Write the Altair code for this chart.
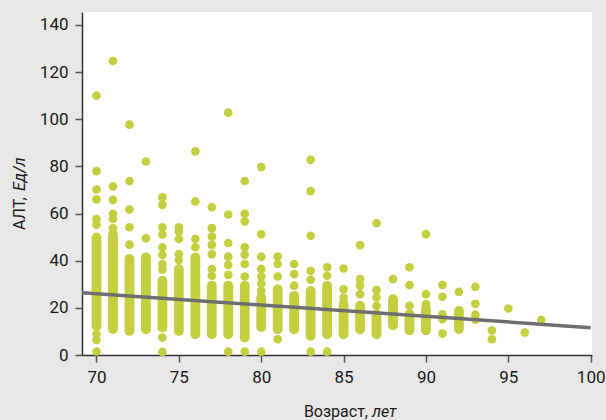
import altair as alt
import pandas as pd

# Dense columns of overlapping points (age, lowest and highest point centre)
col_age = [70, 71, 72, 73, 74, 75, 76, 77, 78, 79, 80, 81, 82, 83, 84, 85, 86, 87, 88, 89, 90, 92]
col_low = [12.3, 11.0, 10.2, 10.9, 11.6, 10.2, 8.8, 8.8, 8.8, 7.4, 11.9, 10.9, 10.9, 8.1, 8.8, 8.8, 10.9, 8.8, 12.6, 10.5, 10.5, 11.0]
col_high = [49.9, 51.0, 40.7, 41.4, 31.5, 36.5, 41.4, 29.4, 29.4, 29.4, 24.4, 27.9, 25.1, 27.2, 29.4, 21.6, 20.9, 17.3, 23.7, 17.3, 19.4, 18.7]

# Separate points
pt_age = (
    [70] * 9 + [71] * 6 + [72] * 5 + [73] * 2 + [74] * 10 + [75] * 5 + [76] * 4 +
    [77] * 7 + [78] * 7 + [79] * 8 + [80] * 8 + [81] * 4 + [82] * 3 + [83] * 6 +
    [84] * 3 + [85] * 3 + [86] * 4 + [87] * 4 + [88] * 1 + [89] * 3 + [90] * 3 +
    [91] * 5 + [92] * 1 + [93] * 4 + [94] * 2 + [95] * 1 + [96] * 1 + [97] * 1
)
pt_alt = [
    110, 78, 70.2, 66, 57.7, 55.3, 8.9, 6.4, 1.5,
    124.7, 71.5, 65.8, 59.9, 57.7, 53.8,
    97.7, 73.8, 61.7, 54.2, 46.8,
    82.1, 49.5,
    66.9, 63.7, 54.2, 51.1, 45.7, 42.4, 38.6, 36.2, 7.4, 1.3,
    54.2, 52.3, 49.2, 42.8, 40.3,
    86.4, 65.1, 49.2, 45.7,
    62.7, 53.8, 50.2, 46.7, 42.8, 36.5, 33.6,
    102.8, 59.6, 47.5, 41.7, 38.2, 34.0, 1.4,
    73.8, 59.9, 56.7, 45.7, 42.5, 38.6, 33.3, 1.4,
    79.7, 51.3, 41.7, 36.5, 33.3, 30.3, 27.2, 1.4,
    41.8, 38.6, 33.3, 6.7,
    38.6, 34.3, 29.4,
    82.8, 69.5, 50.6, 35.7, 31.9, 1.4,
    37.2, 33.6, 1.4,
    36.7, 27.9, 24.4,
    46.6, 32.2, 29.4, 25.8,
    55.9, 27.5, 24.4, 20.9,
    32.2,
    37.2, 29.7, 20.9,
    51.3, 25.8, 21.6,
    29.7, 24.7, 17.3, 15.2, 9.1,
    26.8,
    28.9, 21.7, 17.1, 15.0,
    10.5, 6.7,
    19.7,
    9.5,
    14.8,
]

# Regression line end points
fit_age = [69.12, 100]
fit_alt = [26.4, 11.6]

x_ticks = [70, 75, 80, 85, 90, 95, 100]
y_ticks = [0, 20, 40, 60, 80, 100, 120, 140]

PT = "#c3cf3f"
FONT = "Roboto"

cols = pd.DataFrame({"age": col_age, "low": col_low, "high": col_high})
pts = pd.DataFrame({"age": pt_age, "alt": pt_alt})
fit = pd.DataFrame({"age": fit_age, "alt": fit_alt})

xs = alt.Scale(domain=[69.12, 100.08], nice=False, zero=False)
ys = alt.Scale(domain=[0, 145.5], nice=False, zero=False)
xax = alt.Axis(values=x_ticks, format="d", title=None, grid=False)
yax = alt.Axis(values=y_ticks, format="d", title=None, grid=False)

columns = alt.Chart(cols).mark_rule(color=PT, strokeWidth=9.8, strokeCap="round").encode(
    x=alt.X("age:Q", scale=xs, axis=xax),
    y=alt.Y("low:Q", scale=ys, axis=yax),
    y2="high:Q",
)
points = alt.Chart(pts).mark_circle(color=PT, size=75, opacity=1).encode(
    x=alt.X("age:Q", scale=xs, axis=xax),
    y=alt.Y("alt:Q", scale=ys, axis=yax),
)
line = alt.Chart(fit).mark_line(color="#6e6e6e", strokeWidth=3.5).encode(
    x=alt.X("age:Q", scale=xs, axis=xax),
    y=alt.Y("alt:Q", scale=ys, axis=yax),
)

dummy = pd.DataFrame({"d": [0]})
xt1 = alt.Chart(dummy).mark_text(text="Возраст,", font=FONT, fontSize=16, align="right",
                                 baseline="alphabetic", color="#1a1a1a").encode(
    x=alt.value(286), y=alt.value(405))
xt2 = alt.Chart(dummy).mark_text(text="лет", font=FONT, fontSize=16, fontStyle="italic", align="left",
                                 baseline="alphabetic", color="#1a1a1a").encode(
    x=alt.value(290), y=alt.value(405))
yt1 = alt.Chart(dummy).mark_text(text="АЛТ,", font=FONT, fontSize=16, align="left", angle=270,
                                 baseline="alphabetic", color="#1a1a1a").encode(
    x=alt.value(-57), y=alt.value(218))
yt2 = alt.Chart(dummy).mark_text(text="Ед/л", font=FONT, fontSize=16, fontStyle="italic", align="left",
                                 angle=270, baseline="alphabetic", color="#1a1a1a").encode(
    x=alt.value(-57), y=alt.value(179))

chart = alt.layer(columns, points, line, xt1, xt2, yt1, yt2).properties(
    width=510,
    height=343,
    autosize=alt.AutoSizeParams(type="none"),
    padding={"left": 82, "top": 12, "right": 14, "bottom": 65},
    background="#e8e8e8",
).configure_view(
    fill="white", stroke=None
).configure_axis(
    labelFont=FONT, labelFontSize=17, labelColor="#1a1a1a",
    domainColor="#333333", domainWidth=1.5,
    tickColor="#555555", tickWidth=1.5, tickSize=7,
    labelPadding=7,
)

chart.save("out.html", embed_options={"renderer": "svg", "actions": False})
